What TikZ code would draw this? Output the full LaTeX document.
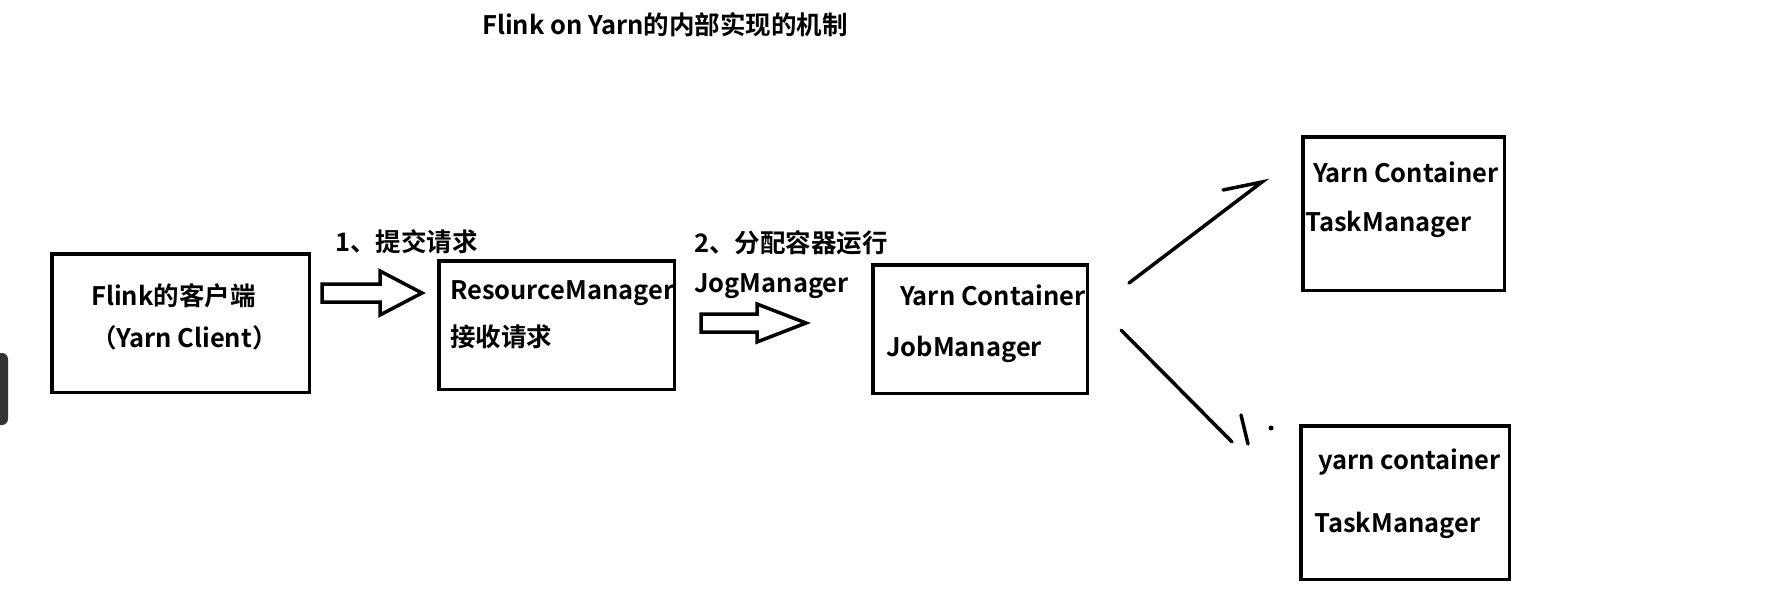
\documentclass[tikz,border=0pt]{standalone}
\usepackage{fontspec}
\setmainfont{Noto Sans CJK SC}[BoldFont={Noto Sans CJK SC Bold}]
\tikzset{
  box/.style={draw,line width=3.5pt,inner sep=0pt},
  lbl/.style={anchor=west,inner sep=0pt,font=\bfseries\fontsize{25.5}{25.5}\selectfont},
  stroke/.style={line width=3.5pt,line cap=round},
}
\begin{document}
\begin{tikzpicture}[x=1pt,y=-1pt]
  \useasboundingbox[fill=white] (0,0) rectangle (1779,613);
  %% tab on the left edge
  \fill[black!80,rounded corners=6pt] (-12,353) rectangle (8,425);
  %% title
  \node[lbl] (title) at (482,25) {Flink on Yarn的内部实现的机制};
  %% boxes
  \node[box,minimum width=257.5,minimum height=138.5] (client) at (180.5,323) {};
  \node[box,minimum width=235.5,minimum height=128.5] (rm) at (556.5,325) {};
  \node[box,minimum width=214.5,minimum height=128.5] (jm) at (980,329) {};
  \node[box,minimum width=201.5,minimum height=153.5] (tmA) at (1403.5,213.5) {};
  \node[box,minimum width=208.5,minimum height=153.5] (tmB) at (1405,502.5) {};
  %% texts
  \node[lbl] (clientA) at (91,296) {Flink的客户端};
  \node[lbl] (clientB) at (91,338) {（Yarn Client）};
  \node[lbl] (rmA) at (450,293) {ResourceManager};
  \node[lbl] (rmB) at (450,337) {接收请求};
  \node[lbl] (stepA) at (335,242) {1、提交请求};
  \node[lbl] (stepB) at (694,243) {2、分配容器运行};
  \node[lbl] (stepC) at (694,286) {JogManager};
  \node[lbl] (jmA) at (900,295) {Yarn Container};
  \node[lbl] (jmB) at (886,349) {JobManager};
  \node[lbl] (tmAa) at (1313,172) {Yarn Container};
  \node[lbl] (tmAb) at (1305,224) {TaskManager};
  \node[lbl] (tmBa) at (1318,462) {yarn container};
  \node[lbl] (tmBb) at (1314,525) {TaskManager};
  %% hollow arrows: tail/tip/y/head base/head half
  \foreach \t/\p/\y/\b/\h in {322/422/293/380/22,701/806/323/757/19}
    \draw[line width=3.5pt] (\t,\y-9) -- (\b,\y-9) -- (\b,\y-\h) -- (\p,\y)
      -- (\b,\y+\h) -- (\b,\y+9) -- (\t,\y+9) -- cycle;
  %% hand drawn lines
  \coordinate (upS) at (1129,283);
  \coordinate (upE) at (1262,182);
  \coordinate (upH) at (1223,190);
  \draw[stroke] (upS) -- (upE) -- (upH);
  \coordinate (dnS) at (1121,330);
  \coordinate (dnE) at (1232,442);
  \draw[stroke] (dnS) -- (dnE);
  \draw[stroke] (1241,415) -- (1248,444);
  \fill (1271,428) circle (2.5);
\end{tikzpicture}
\end{document}
